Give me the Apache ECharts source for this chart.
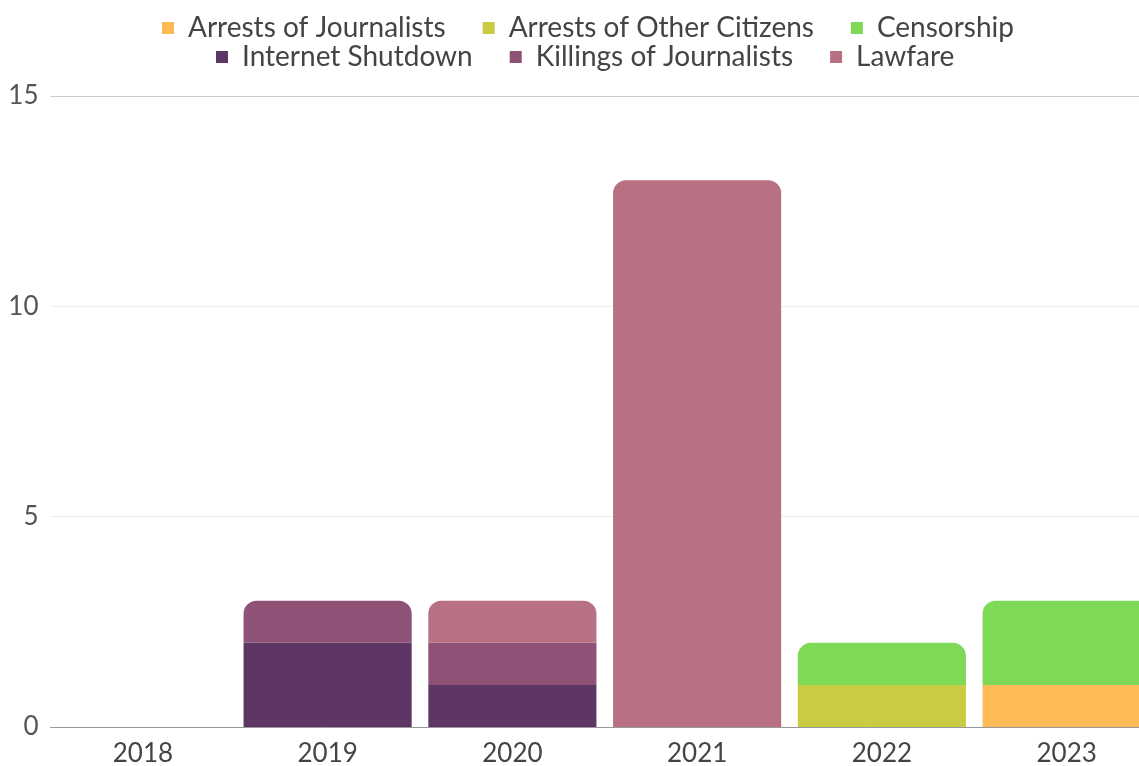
<!DOCTYPE html>
<html><head><meta charset="utf-8">
<script src="https://cdn.jsdelivr.net/npm/echarts@6/dist/echarts.min.js"></script>
<style>html,body{margin:0;padding:0;background:#fff}#c{width:1139px;height:766px}</style>
</head><body><div id="c"></div>
<script>
const years = ['2018','2019','2020','2021','2022','2023'];
const seriesNames = ['Arrests of Journalists','Arrests of Other Citizens','Censorship','Internet Shutdown','Killings of Journalists','Lawfare'];
const arrestsJournalists = [0,0,0,0,0,1];
const arrestsCitizens    = [0,0,0,0,1,0];
const censorship         = [0,0,0,0,1,2];
const internetShutdown   = [0,2,1,0,0,0];
const killingsJournalists= [0,1,1,0,0,0];
const lawfare            = [0,0,1,13,0,0];
const yTicks = [0,5,10,15];
const colors = ['#FDBA57','#C9CC43','#7ED957','#5E3666','#8E5277','#B87083'];

const values = [arrestsJournalists, arrestsCitizens, censorship, internetShutdown, killingsJournalists, lawfare];
const topIdx = years.map((_, c) => { let t = -1; values.forEach((v, s) => { if (v[c] > 0) t = s; }); return t; });

const series = seriesNames.map((name, s) => ({
  name, type: 'bar', stack: 'total', barCategoryGap: '9%',
  itemStyle: { color: colors[s] },
  data: values[s].map((v, c) => ({
    value: v,
    itemStyle: { borderRadius: topIdx[c] === s ? [13,13,0,0] : 0 }
  }))
}));

const font = 'Lato, "Noto Sans", sans-serif';
const legendCommon = {
  icon: 'rect', itemWidth: 12, itemHeight: 12, itemGap: 37,
  textStyle: { fontFamily: font, fontSize: 28, color: '#444', padding: [0,0,0,9] }
};
const chart = echarts.init(document.getElementById('c'));
chart.setOption({
  animation: false,
  color: colors,
  legend: [
    Object.assign({}, legendCommon, { left: 157, top: 9, data: seriesNames.slice(0,3) }),
    Object.assign({}, legendCommon, { left: 211, top: 38, data: seriesNames.slice(3) })
  ],
  grid: { left: 50.5, width: 1108.5, top: 96, bottom: 39, containLabel: false, outerBoundsMode: 'none' },
  xAxis: {
    type: 'category', data: years,
    axisLine: { lineStyle: { color: '#999' } },
    axisTick: { show: false },
    axisLabel: { fontFamily: font, fontSize: 26, color: '#444', margin: 14 }
  },
  yAxis: {
    type: 'value', min: yTicks[0], max: yTicks[yTicks.length-1], interval: 5,
    axisLabel: { fontFamily: font, fontSize: 26, color: '#555', margin: 12 },
    splitLine: { lineStyle: { color: ['#ccc','#eee','#eee','#ccc'] } }
  },
  series
});
</script></body></html>
